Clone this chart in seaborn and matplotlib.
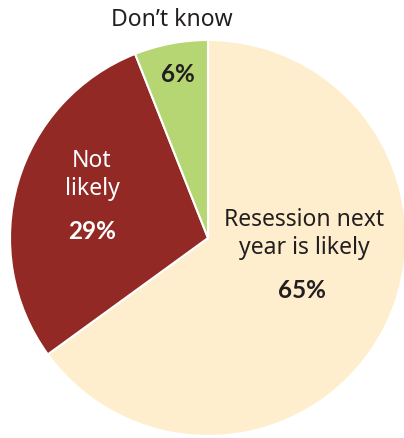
import matplotlib
matplotlib.use("Agg")
import matplotlib.pyplot as plt
import seaborn as sns

labels = ["Resession next\nyear is likely", "Not\nlikely", "Don\u2019t know"]
shares = [65, 29, 6]
colors = ["#FEEECE", "#922925", "#B5D672"]

sns.set_theme(style="white")
plt.rcParams['font.family'] = ['Noto Sans', 'DejaVu Sans']

W, H = 404, 438
cx, cy, r = 208, 238, 198

def pos(px, py):
    return (px - cx) / r, (cy - py) / r

fig = plt.figure(figsize=(W / 100, H / 100), dpi=100)
ax = fig.add_axes([0, 0, 1, 1])
ax.pie(shares, colors=colors, startangle=90, counterclock=False,
       wedgeprops=dict(edgecolor="white", linewidth=1.5))
ax.set_xlim(-cx / r, (W - cx) / r)
ax.set_ylim(-(H - cy) / r, cy / r)
ax.set_aspect("equal")
ax.axis("off")

dark = "#231F20"
fs = 16.5
bold = dict(family=["Lato", "DejaVu Sans"], fontweight="bold", fontsize=17.5)
ax.text(*pos(304, 234), labels[0], ha="center", va="center", fontsize=fs,
        color=dark, linespacing=1.25)
ax.text(*pos(302, 291), f"{shares[0]}%", ha="center", va="center",
        color=dark, **bold)
ax.text(*pos(92, 175), labels[1], ha="center", va="center", fontsize=fs,
        color="white", linespacing=1.25)
ax.text(*pos(92, 232), f"{shares[1]}%", ha="center", va="center",
        color="white", **bold)
ax.text(*pos(172, 20), labels[2], ha="center", va="center", fontsize=fs,
        color=dark)
ax.text(*pos(178, 75), f"{shares[2]}%", ha="center", va="center",
        color=dark, **bold)

fig.savefig("out.png", dpi=100)
